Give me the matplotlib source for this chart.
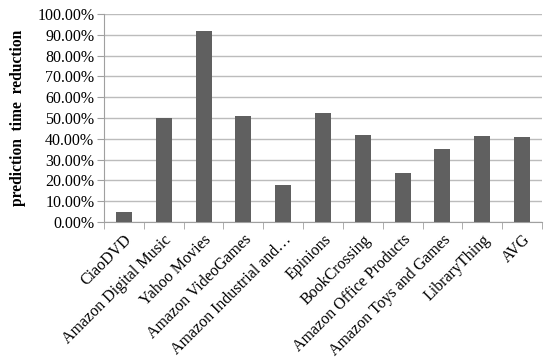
import matplotlib.pyplot as plt
from matplotlib.ticker import FuncFormatter, FixedLocator
import numpy as np

datasets = ["CiaoDVD", "Amazon Digital Music", "Yahoo Movies", "Amazon VideoGames",
            "Amazon Industrial and\u2026", "Epinions", "BookCrossing",
            "Amazon Office Products", "Amazon Toys and Games", "LibraryThing", "AVG"]
reduction = [5.0, 49.9, 92.0, 51.1, 17.8, 52.6, 41.8, 23.4, 35.1, 41.4, 41.0]
yticks = [0, 10, 20, 30, 40, 50, 60, 70, 80, 90, 100]

plt.rcParams['font.family'] = ['Liberation Serif', 'DejaVu Serif']

fig = plt.figure(figsize=(5.5, 3.63), dpi=100)
ax = fig.add_axes([104/550, 1-222/363, 438/550, 208/363])

x = np.arange(len(datasets))
ax.bar(x, reduction, width=0.4, color="#606060", zorder=3)

ax.set_xlim(-0.5, len(datasets) - 0.5)
ax.set_ylim(0, 100)
ax.set_yticks(yticks)
ax.yaxis.set_major_formatter(FuncFormatter(lambda v, p: "%.2f%%" % v))
ax.grid(axis="y", color="#bcbcbc", linewidth=1, zorder=0)

ax.set_xticks(x)
ax.set_xticklabels(datasets, rotation=45, ha="right", rotation_mode="anchor", fontsize=11.5)
ax.tick_params(axis="x", length=0, pad=7)
ax.xaxis.set_minor_locator(FixedLocator(np.arange(-0.5, len(datasets), 1)))
ax.tick_params(axis="x", which="minor", length=5, color="#a0a0a0")
ax.tick_params(axis="y", labelsize=11.5, length=5, color="#a0a0a0", pad=2)

for s in ["top", "right"]:
    ax.spines[s].set_visible(False)
for s in ["left", "bottom"]:
    ax.spines[s].set_color("#a0a0a0")

ax.set_ylabel("prediction  time  reduction", fontsize=11.2, fontweight="bold")
ax.yaxis.set_label_coords(-78/438, 0.5)

fig.savefig("out.png", dpi=100)
